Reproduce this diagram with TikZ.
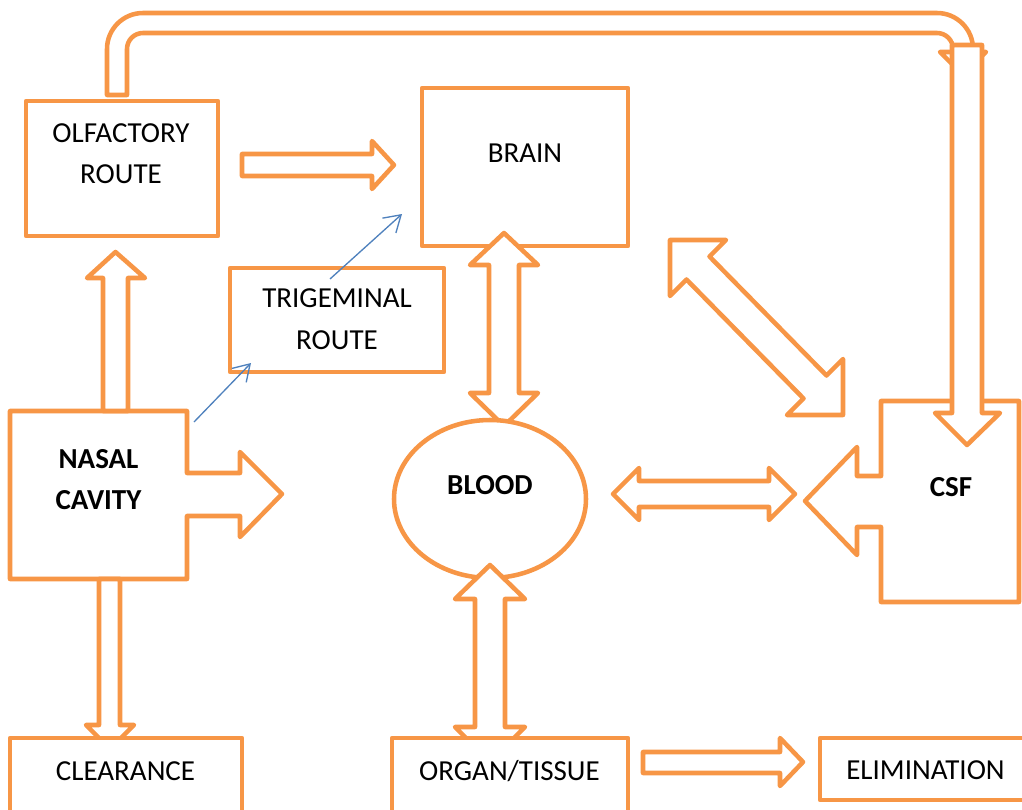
\documentclass[tikz,border=0pt]{standalone}
\usepackage{fontspec}
\setmainfont{Carlito}
\usetikzlibrary{arrows.meta,shapes.geometric}
\definecolor{orng}{HTML}{F79646}
\definecolor{blu}{HTML}{4F81BD}
\begin{document}
\begin{tikzpicture}[x=0.75pt,y=-0.75pt,
  ob/.style={draw=orng, line width=3.4pt, line join=round, fill=white},
  lbl/.style={font=\fontsize{21.75}{26}\selectfont, anchor=base, inner sep=0pt},
  blbl/.style={font=\fontsize{21.75}{26}\selectfont\bfseries, anchor=base, inner sep=0pt},
  bluearrow/.style={draw=blu, line width=1pt, -{Straight Barb[length=12pt,width=15pt]}}]
\useasboundingbox (0,0) rectangle (1022,810);
\clip (0,0) rectangle (1022,810);

% bent pipe arrow from olfactory route to CSF
\draw[ob] (107,95) -- (107,49) arc[start angle=180,end angle=270,radius=36]
  -- (937,13) arc[start angle=270,end angle=360,radius=36]
  -- (973,52) -- (986,52) -- (963,75) -- (940,52) -- (953,52) -- (953,49)
  arc[start angle=0,end angle=-90,radius=16]
  -- (143,33) arc[start angle=270,end angle=180,radius=16]
  -- (127,95) -- cycle;

% olfactory route box
\draw[ob] (26,101) rectangle (218,236);
\node[lbl] (olf1) at (121,142) {OLFACTORY};
\node[lbl] (olf2) at (121,183) {ROUTE};

% olfactory -> brain
\draw[ob] (242,154) -- (372,154) -- (372,141) -- (394,165) -- (372,189) -- (372,176) -- (242,176) -- cycle;

% brain box
\draw[ob] (422,88) rectangle (628,246);
\node[lbl] (brain) at (525,162) {BRAIN};

% trigeminal box
\draw[ob] (230,268) rectangle (444,372);
\node[lbl] (tri1) at (337,307) {TRIGEMINAL};
\node[lbl] (tri2) at (337,349) {ROUTE};

% brain <-> blood
\draw[ob] (504,233) -- (538,265) -- (519,265) -- (519,393) -- (538,393) -- (504,426)
  -- (470,393) -- (489,393) -- (489,265) -- (470,265) -- cycle;

% blood ellipse
\node[ob, ellipse, minimum width=144pt, minimum height=118.5pt, inner sep=0pt] (blood) at (490,499) {};
\node[blbl] (bloodlbl) at (490,494) {BLOOD};

% blood <-> organ
\draw[ob] (490,565) -- (525,599) -- (505,599) -- (505,727) -- (525,727) -- (490,762)
  -- (455,727) -- (475,727) -- (475,599) -- (455,599) -- cycle;

% brain <-> CSF diagonal
\draw[ob] (670,240) -- (726,240) -- (709.5,256.5) -- (826.5,375.5) -- (843,359) -- (843,415)
  -- (787,415) -- (803.5,398.5) -- (686.5,279.5) -- (670,296) -- cycle;

% blood <-> CSF horizontal
\draw[ob] (613,494) -- (639,468) -- (639,481) -- (769,481) -- (769,468) -- (795,494)
  -- (769,520) -- (769,507) -- (639,507) -- (639,520) -- cycle;

% CSF callout
\draw[ob] (881,401) -- (1019,401) -- (1019,602) -- (881,602) -- (881,527) -- (857,527)
  -- (857,555) -- (805,501) -- (857,447) -- (857,476) -- (881,476) -- cycle;
\node[blbl] (csf) at (951,496) {CSF};

% down arrow into CSF
\draw[ob] (952,45) -- (982,45) -- (982,413) -- (1000,413) -- (967,445) -- (935,413) -- (952,413) -- cycle;

% nasal cavity callout
\draw[ob] (10,411) -- (187,411) -- (187,473) -- (240,473) -- (240,452) -- (282,494)
  -- (240,537) -- (240,516) -- (187,516) -- (187,579) -- (10,579) -- cycle;
\node[blbl] (nas1) at (98.5,468) {NASAL};
\node[blbl] (nas2) at (98.5,509) {CAVITY};

% nasal -> olfactory
\draw[ob] (103,411) -- (103,278) -- (87,278) -- (115.5,252) -- (145,278) -- (128,278) -- (128,411) -- cycle;

% nasal -> clearance
\draw[ob] (99,579) -- (99,725) -- (86,725) -- (110,749) -- (134,725) -- (120,725) -- (120,579) -- cycle;

% clearance box
\draw[ob] (10,738) rectangle (242,840);
\node[lbl] (clear) at (125.5,780) {CLEARANCE};

% organ/tissue box
\draw[ob] (392,738) rectangle (628,840);
\node[lbl] (organ) at (509.5,780) {ORGAN/TISSUE};

% organ -> elimination
\draw[ob] (643,752) -- (780,752) -- (780,738) -- (803,762) -- (780,786) -- (780,773) -- (643,773) -- cycle;

% elimination box
\draw[ob] (820,738) rectangle (1040,800);
\node[lbl] (elim) at (925.5,779) {ELIMINATION};

% trigeminal route thin arrows
\coordinate (t1s) at (194,422);
\coordinate (t1e) at (251,363);
\coordinate (t2s) at (330,279);
\coordinate (t2e) at (402,214);
\draw[bluearrow] (t1s) -- (t1e);
\draw[bluearrow] (t2s) -- (t2e);
\end{tikzpicture}
\end{document}
